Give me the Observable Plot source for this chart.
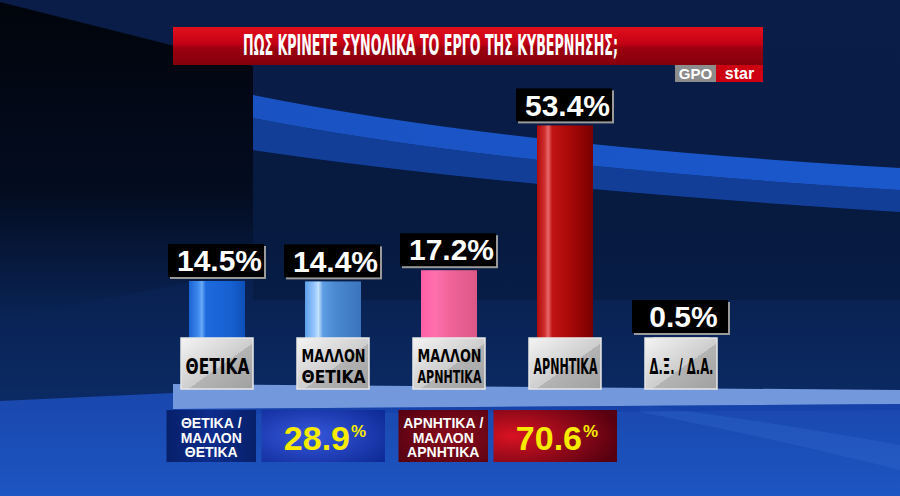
<!DOCTYPE html>
<html><head><meta charset="utf-8">
<script src="https://cdn.jsdelivr.net/npm/d3@7"></script>
<script src="https://cdn.jsdelivr.net/npm/@observablehq/plot@0.6"></script>
<style>html,body{margin:0;padding:0;background:#0a1f4d;overflow:hidden}#chart svg{display:block}</style>
</head><body><div id="chart"></div>
<script>
// ---- data ----
const title = "ΠΩΣ ΚΡΙΝΕΤΕ ΣΥΝΟΛΙΚΑ ΤΟ ΕΡΓΟ ΤΗΣ ΚΥΒΕΡΝΗΣΗΣ;";
const sourceLabels = ["GPO", "star"];
const categories = ["ΘΕΤΙΚΑ", "ΜΑΛΛΟΝ\nΘΕΤΙΚΑ", "ΜΑΛΛΟΝ\nΑΡΝΗΤΙΚΑ", "ΑΡΝΗΤΙΚΑ", "Δ.Ξ. / Δ.Α."];
const values = [14.5, 14.4, 17.2, 53.4, 0.5];
const summaryLabels = ["ΘΕΤΙΚΑ /\nΜΑΛΛΟΝ\nΘΕΤΙΚΑ", "ΑΡΝΗΤΙΚΑ /\nΜΑΛΛΟΝ\nΑΡΝΗΤΙΚΑ"];
const summaryValues = [28.9, 70.6];
const summaryGroups = [[0, 1], [2, 3]];

const data = categories.map((c, i) => ({cat: c, value: values[i], label: values[i].toFixed(1) + "%"}));
const W = 900, H = 496;
const NARROW = "'Liberation Sans Narrow','DejaVu Sans Condensed','Roboto Condensed',sans-serif";
const SANS = "'Liberation Sans',Arial,sans-serif";

const plot = Plot.plot({
  width: W, height: H, margin: 0,
  style: {background: "none", overflow: "visible"},
  x: {type: "band", domain: categories, range: [157, 740], padding: 0, axis: null},
  y: {domain: [0, 60], range: [339, 99], axis: null},
  color: {type: "ordinal", domain: categories, range: categories.map((c, i) => `url(#bar${i})`)},
  marks: [
    Plot.barY(data, {x: "cat", y: "value", fill: "cat", insetLeft: 30, insetRight: 30}),
    Plot.barY(data, {x: "cat", y1: "value", y2: "value", insetTop: -37, insetBottom: 4, insetLeft: 9, insetRight: 11, dx: 2, dy: 2, fill: "#9a9a9a"}),
    Plot.barY(data, {x: "cat", y1: "value", y2: "value", insetTop: -37, insetBottom: 4, insetLeft: 9, insetRight: 11, fill: "#000"}),
    Plot.text(data, {x: "cat", y: "value", text: "label", dy: -20, dx: 2, fill: "white", fontSize: 30, fontWeight: "bold", fontFamily: SANS, lineAnchor: "middle"}),
    Plot.barY(data, {x: "cat", y1: () => 0, y2: () => 0, insetTop: -1, insetBottom: -50, insetLeft: 22, insetRight: 22, fill: "#c8c8c8", stroke: "#e8e8e8", strokeWidth: 1.5}),
    Plot.text(data, {x: "cat", y: () => 0, text: "cat", dy: 26, fontSize: d => d.cat.includes("\n") ? 18 : 22, lineHeight: 1.18, fontFamily: NARROW, fontWeight: "bold", fill: "#000", lineAnchor: "middle"}),
    Plot.text([title], {frameAnchor: "top-left", dx: 430, dy: 46, fill: "white", fontSize: 28, fontWeight: "bold", fontFamily: NARROW, lineAnchor: "middle", textAnchor: "middle"})
  ]
});
document.getElementById("chart").appendChild(plot);
const markGroups = Array.from(plot.children).filter(e => e.tagName.toLowerCase() === "g");
const [gBars, gShadow, gBox, gVal, gCatBox, gCatLab, gTitle] = markGroups;

const svg = d3.select(plot);
// ---- defs ----
const defs = svg.insert("defs", ":first-child");
function lin(id, stops, x2 = 1, y2 = 0, x1 = 0, y1 = 0) {
  const g = defs.append("linearGradient").attr("id", id).attr("x1", x1).attr("y1", y1).attr("x2", x2).attr("y2", y2);
  stops.forEach(([o, c, op]) => g.append("stop").attr("offset", o).attr("stop-color", c).attr("stop-opacity", op ?? 1));
}
function rad(id, stops, cx = 0.5, cy = 0.5, r = 0.7) {
  const g = defs.append("radialGradient").attr("id", id).attr("cx", cx).attr("cy", cy).attr("r", r);
  stops.forEach(([o, c]) => g.append("stop").attr("offset", o).attr("stop-color", c));
}
lin("bar0", [[0, "#1a62d2"], [0.17, "#3f8cf0"], [0.23, "#6aaaf8"], [0.3, "#1d6ade"], [0.75, "#1660d0"], [1, "#0e4fb8"]]);
lin("bar1", [[0, "#5b9ee8"], [0.18, "#9ccaff"], [0.24, "#c5e2ff"], [0.32, "#5d9de4"], [0.55, "#4a88d0"], [1, "#3a74bc"]]);
lin("bar2", [[0, "#ff5fa5"], [0.25, "#ff70ae"], [0.5, "#f0649a"], [1, "#dc5886"]]);
lin("bar3", [[0, "#b00a0a"], [0.14, "#d03030"], [0.2, "#e86a6a"], [0.27, "#c01414"], [0.6, "#a80808"], [1, "#7a0000"]]);
lin("bar4", [[0, "#9a9a9a"], [1, "#7a7a7a"]]);
lin("catgrad", [[0, "#f4f4f4"], [0.55, "#cdcdcd"], [0.55, "#b4b4b4"], [1, "#a0a0a0"]], 1, 1);
lin("bgbase", [[0, "#0a1d48"], [0.45, "#081c46"], [0.8, "#0b2a63"]], 0, 1);
lin("leftdark", [[0, "#01040b"], [0.6, "#030b1e", 0.95], [1, "#061736", 0]], 0, 1);
lin("banner", [[0, "#e4101c"], [0.45, "#c20014"], [0.55, "#9c000e"], [1, "#84000c"]], 0, 1);
lin("floor", [[0, "#1947ad"], [1, "#1d55c2"]], 0, 1);
lin("band1", [[0, "#1a52c2"], [1, "#1a58cc"]]);
lin("sumnavy", [[0, "#07206a"], [0.5, "#0d2c8c"], [1, "#07206a"]]);
rad("sumblue", [[0, "#3658dc"], [1, "#0e2a96"]], 0.4, 0.5, 0.75);
rad("sumdark", [[0, "#8a0c1c"], [1, "#520010"]], 0.6, 0.5, 0.8);
rad("sumred", [[0, "#d81222"], [0.6, "#8a0818"], [1, "#560010"]], 0.15, 0.5, 0.9);

// ---- background (behind everything) ----
const bg = svg.insert("g", "defs + *").attr("aria-label", "background");
bg.append("rect").attr("width", W).attr("height", H).attr("fill", "url(#bgbase)");
bg.append("path").attr("d", "M0,2 L175,46 L253,66 L253,270 L0,320 Z").attr("fill", "url(#leftdark)");
bg.append("path").attr("d", "M253,150 Q500,187 900,212 L900,300 L253,300 Z").attr("fill", "#06173a").attr("opacity", 0.5);
bg.append("path").attr("d", "M253,118 Q500,166 900,190 L900,212 Q500,187 253,150 Z").attr("fill", "#123e98");
bg.append("path").attr("d", "M253,95 Q500,145 900,168 L900,190 Q500,166 253,118 Z").attr("fill", "url(#band1)");
bg.append("path").attr("d", "M0,401 L173,393 L900,392 L900,496 L0,496 Z").attr("fill", "url(#floor)");
bg.append("path").attr("d", "M640,405 Q760,420 900,445 L900,470 Q780,440 640,412 Z").attr("fill", "#3a72d8").attr("opacity", 0.25);
bg.append("path").attr("d", "M173,384 L900,390 L900,404 L173,409 Z").attr("fill", "#7398dc");
bg.append("path").attr("d", "M173,409 L900,404 L900,410 L173,414 Z").attr("fill", "#1240a6").attr("opacity", 0.6);
// title banner
bg.append("rect").attr("x", 173).attr("y", 27).attr("width", 590).attr("height", 38).attr("fill", "url(#banner)");

// restyle category boxes
d3.select(gCatBox).selectAll("rect").attr("fill", "url(#catgrad)");

// fit category label lines to the box width
d3.select(gCatLab).selectAll("text").each(function () {
  const spans = this.querySelectorAll("tspan");
  const els = spans.length ? Array.from(spans) : [this];
  els.forEach(el => { el.setAttribute("textLength", 64); el.setAttribute("lengthAdjust", "spacingAndGlyphs"); });
});
// condense the title horizontally to the banner's text width
d3.select(gTitle).selectAll("text").each(function () {
  const w = this.getComputedTextLength();
  const tr = this.getAttribute("transform") || "";
  if (w > 0) this.setAttribute("transform", `${tr} scale(${375 / w},1)`);
});

// ---- source logo ----
const logo = svg.append("g").attr("aria-label", "source");
logo.append("rect").attr("x", 675).attr("y", 65).attr("width", 41).attr("height", 17).attr("fill", "#8c8c8c");
logo.append("rect").attr("x", 716).attr("y", 65).attr("width", 47).attr("height", 17).attr("fill", "#cc0010");
logo.append("text").attr("x", 695.5).attr("y", 79).attr("text-anchor", "middle").attr("fill", "#fff")
  .attr("font-family", SANS).attr("font-weight", "bold").attr("font-size", 15).text(sourceLabels[0]);
logo.append("text").attr("x", 739.5).attr("y", 79).attr("text-anchor", "middle").attr("fill", "#fff")
  .attr("font-family", SANS).attr("font-weight", "bold").attr("font-size", 16).text(sourceLabels[1]);

// ---- summary boxes, positioned from the x scale ----
const xs = plot.scale("x");
const bw = xs.bandwidth;
const sum = svg.append("g").attr("aria-label", "summary");
summaryGroups.forEach((g, k) => {
  const c = (xs.apply(categories[g[0]]) + xs.apply(categories[g[1]])) / 2 + bw / 2;
  sum.append("rect").attr("x", c - 108.5).attr("y", 410).attr("width", 89.5).attr("height", 52)
    .attr("fill", k === 0 ? "url(#sumnavy)" : "url(#sumdark)");
  sum.append("rect").attr("x", c - 13.5).attr("y", 410).attr("width", 123.5).attr("height", 52)
    .attr("fill", k === 0 ? "url(#sumblue)" : "url(#sumred)");
  const lines = summaryLabels[k].split("\n");
  const t = sum.append("text").attr("x", c - 63.75).attr("text-anchor", "middle").attr("fill", "#fff")
    .attr("font-family", SANS).attr("font-weight", "bold").attr("font-size", 14);
  lines.forEach((ln, j) => t.append("tspan").attr("x", c - 63.75).attr("y", 428 + j * 14.5).text(ln));
  const v = sum.append("text").attr("x", c + 50).attr("y", 450).attr("text-anchor", "middle").attr("fill", "#f7ec00")
    .attr("font-family", SANS).attr("font-weight", "bold");
  v.append("tspan").attr("font-size", 34).text(summaryValues[k].toFixed(1));
  v.append("tspan").attr("font-size", 17).attr("dy", -13).attr("dx", 1).text("%");
});
</script>
</body></html>
